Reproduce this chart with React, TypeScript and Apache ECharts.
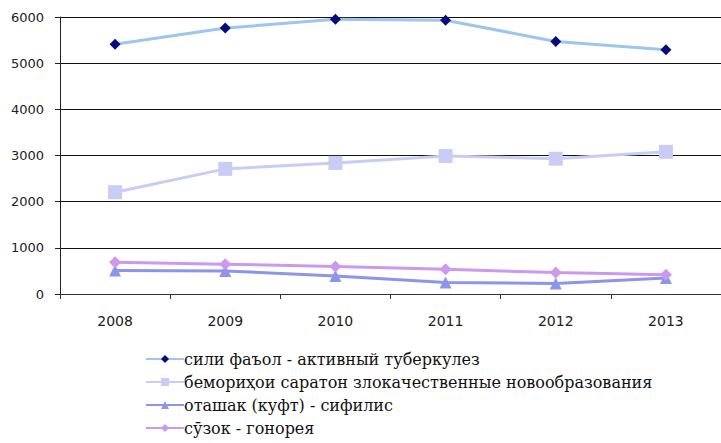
import React, { useEffect, useRef } from "react";
import * as echarts from "echarts";

const years = ["2008", "2009", "2010", "2011", "2012", "2013"];
const tuberculosis = [5410, 5760, 5950, 5930, 5470, 5290];
const cancer = [2205, 2710, 2840, 2990, 2930, 3080];
const syphilis = [510, 500, 390, 250, 230, 345];
const gonorrhea = [690, 645, 595, 535, 465, 415];
const seriesNames = [
  "сили фаъол - активный туберкулез",
  "бемориҳои саратон злокачественные новообразования",
  "оташак (куфт) - сифилис",
  "сӯзок - гонорея",
];

export default function App() {
  const ref = useRef<HTMLDivElement>(null);
  useEffect(() => {
    const chart = echarts.init(ref.current!, null, { renderer: "svg" });
    const mk = (name: string, data: number[], lineColor: string, symColor: string, symbol: string, size: number) => ({
      name,
      type: "line",
      data,
      symbol,
      symbolSize: size,
      lineStyle: { color: lineColor, width: 3 },
      itemStyle: { color: symColor },
      emphasis: { disabled: true },
    });
    chart.setOption({
      animation: false,
      backgroundColor: "#ffffff",
      grid: { left: 60, right: -2, top: 17, bottom: 149 },
      xAxis: {
        type: "category",
        data: years,
        boundaryGap: true,
        axisLine: { lineStyle: { color: "#333", width: 1 } },
        axisTick: { show: true, length: 5, lineStyle: { color: "#333" } },
        axisLabel: { color: "#222", fontFamily: "DejaVu Sans", fontSize: 14, margin: 20 },
      },
      yAxis: {
        type: "value",
        min: 0,
        max: 6000,
        interval: 1000,
        axisLine: { show: true, lineStyle: { color: "#222", width: 1 } },
        axisTick: { show: true, length: 5, lineStyle: { color: "#222" } },
        axisLabel: {
          color: "#222",
          fontFamily: "DejaVu Sans",
          fontSize: 13,
          margin: 16,
          formatter: (v: number) => String(v),
        },
        splitLine: { show: true, lineStyle: { color: "#111", width: 1 } },
      },
      legend: {
        orient: "vertical",
        left: 140,
        top: 346,
        itemGap: 7,
        itemWidth: 38,
        itemHeight: 10,
        textStyle: { fontFamily: "DejaVu Serif", fontSize: 16, color: "#111", padding: [0, 0, 0, -5] },
        data: seriesNames,
      },
      series: [
        mk(seriesNames[0], tuberculosis, "#9cc6ee", "#0a0a78", "diamond", 11),
        mk(seriesNames[1], cancer, "#c9cdf6", "#c9cdf6", "rect", 14),
        mk(seriesNames[2], syphilis, "#8c95ea", "#8c95ea", "triangle", 12),
        mk(seriesNames[3], gonorrhea, "#cc99ee", "#cc99ee", "diamond", 12),
      ],
    });
    return () => chart.dispose();
  }, []);
  return <div ref={ref} style={{ position: "fixed", left: 0, top: 0, width: 721, height: 443 }} />;
}
